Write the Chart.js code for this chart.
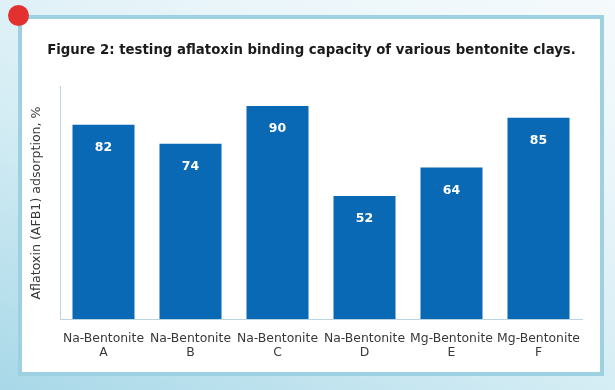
<!DOCTYPE html>
<html>
<head>
<meta charset="utf-8">
<script src="https://cdn.jsdelivr.net/npm/chart.js@4"></script>
<style>
  body { margin: 0; width: 615px; height: 390px; overflow: hidden;
         background: linear-gradient(25deg, #a8d8e8 0%, #d3ecf4 40%, #ebf6fa 75%, #f5fafc 100%); }
  .panel { position: absolute; left: 18px; top: 15px; width: 578px; height: 353px;
           border: 4px solid #9dd1e1; background: #fff; }
  .dot { position: absolute; left: 8px; top: 5px; width: 21px; height: 21px;
         border-radius: 50%; background: #e2312f; z-index: 3; }
  canvas { position: absolute; left: 0; top: 0; z-index: 2; }
</style>
</head>
<body>
<div class="panel"></div>
<div class="dot"></div>
<canvas id="bentoniteChart" width="615" height="390"></canvas>
<script>
// values
var categories = [
    ['Na-Bentonite', 'A'],
    ['Na-Bentonite', 'B'],
    ['Na-Bentonite', 'C'],
    ['Na-Bentonite', 'D'],
    ['Mg-Bentonite', 'E'],
    ['Mg-Bentonite', 'F']
];
var adsorption = [82, 74, 90, 52, 64, 85];

var chartTitle = 'Figure 2: testing aflatoxin binding capacity of various bentonite clays.';
var yTitle = 'Aflatoxin (AFB1) adsorption, %';

// white numbers inside the top of each bar
var valueLabels = {
    id: 'valueLabels',
    afterDatasetsDraw: function (chart) {
        var ctx = chart.ctx;
        var meta = chart.getDatasetMeta(0);
        ctx.save();
        ctx.font = 'bold 12.5px "DejaVu Sans"';
        ctx.fillStyle = '#ffffff';
        ctx.textAlign = 'center';
        ctx.textBaseline = 'middle';
        meta.data.forEach(function (bar, i) {
            ctx.fillText(adsorption[i], bar.x, bar.y + 23);
        });
        ctx.restore();
    }
};

var ctx = document.getElementById('bentoniteChart');
var myChart = new Chart(ctx, {
    type: 'bar',
    data: {
        labels: categories,
        datasets: [
            {
                data: adsorption,
                label: 'Adsorption',
                backgroundColor: '#0a69b5',
                borderWidth: 0,
                categoryPercentage: 1,
                barPercentage: 0.713
            }
        ]
    },
    options: {
        responsive: false,
        animation: false,
        layout: { padding: { left: 8, right: 0, top: 0, bottom: 0 } },
        plugins: {
            legend: { display: false },
            tooltip: { enabled: false },
            title: {
                display: true,
                text: chartTitle,
                color: '#1b1b1b',
                font: { family: 'DejaVu Sans', size: 13.3, weight: 'bold' },
                padding: { top: 43, bottom: 28 }
            }
        },
        scales: {
            x: {
                grid: { display: false, drawTicks: false },
                border: { display: true, color: '#b9d4e0', width: 1 },
                ticks: {
                    color: '#383838',
                    font: { family: 'DejaVu Sans', size: 12.4, lineHeight: 1.12 },
                    padding: 13,
                    maxRotation: 0,
                    autoSkip: false
                },
                afterFit: function (scale) { scale.height = 71; }
            },
            y: {
                min: 0,
                max: 98,
                grid: { display: false, drawTicks: false },
                border: { display: true, color: '#b9d4e0', width: 1 },
                ticks: { display: false },
                title: {
                    display: true,
                    text: yTitle,
                    color: '#383838',
                    font: { family: 'DejaVu Sans', size: 12.6 },
                    padding: { top: 21.5, bottom: 0 }
                },
                afterFit: function (scale) { scale.width = 52; }
            },
            spacer: {
                type: 'linear',
                position: 'right',
                display: true,
                grid: { display: false, drawTicks: false },
                border: { display: false },
                ticks: { display: false },
                afterFit: function (scale) { scale.width = 33; }
            }
        }
    },
    plugins: [valueLabels]
});
</script>
</body>
</html>
